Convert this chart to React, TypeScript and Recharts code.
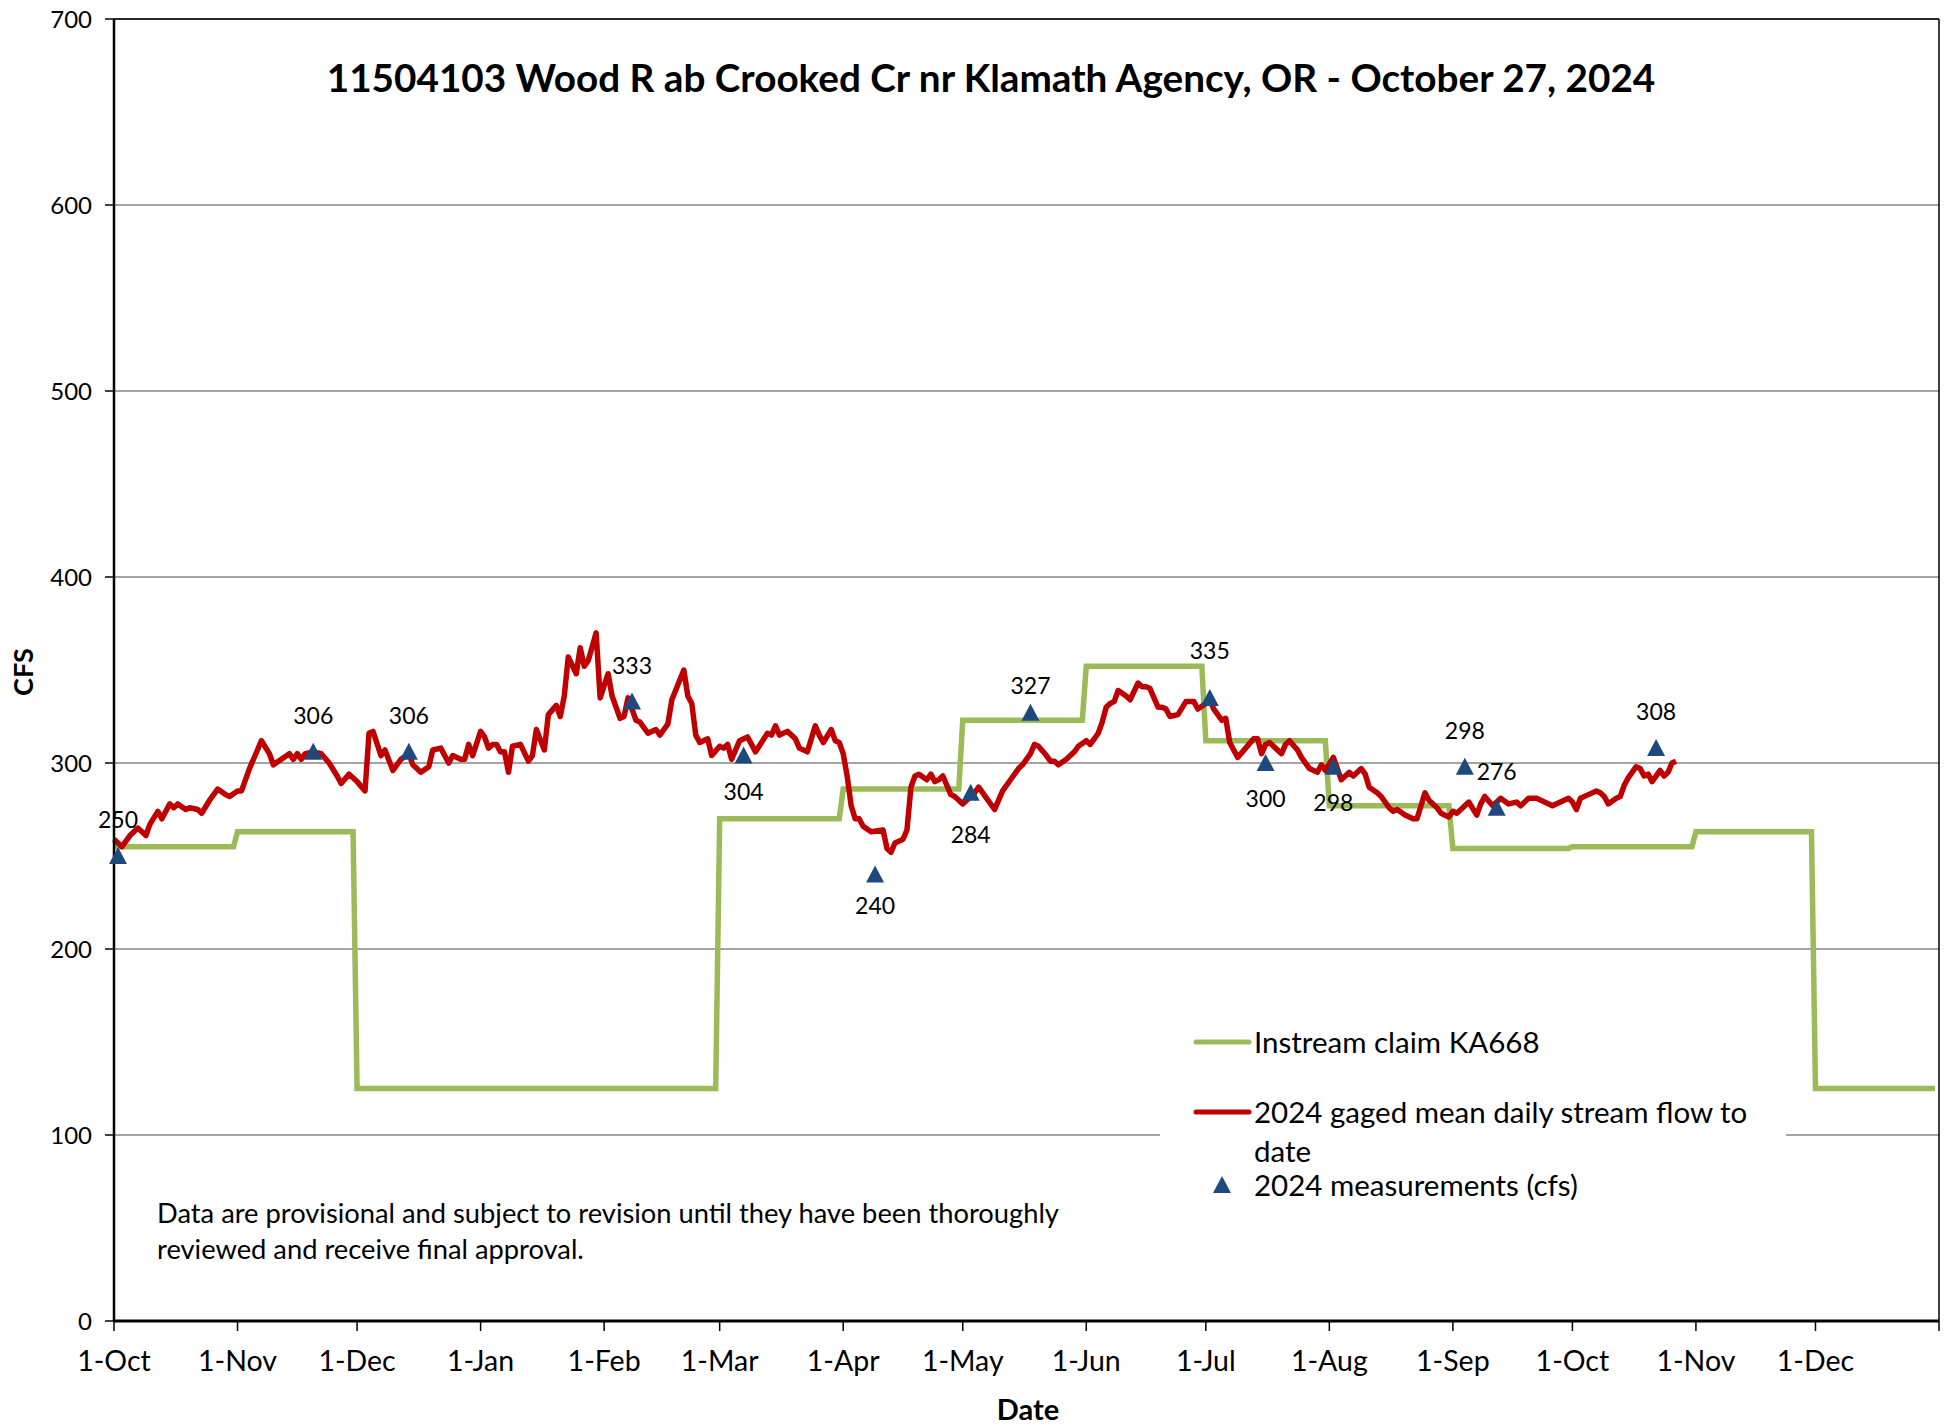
import React from 'react';
import {
  ComposedChart,
  Line,
  Scatter,
  XAxis,
  YAxis,
  CartesianGrid,
  ReferenceLine,
  Legend,
} from 'recharts';

// day 0 = 1-Oct-2023, day 458 = 1-Jan-2025
const monthTickDays = [0, 31, 61, 92, 123, 152, 183, 213, 244, 274, 305, 336, 366, 397, 427, 458];
const monthTickLabels = [
  '1-Oct', '1-Nov', '1-Dec', '1-Jan', '1-Feb', '1-Mar', '1-Apr', '1-May',
  '1-Jun', '1-Jul', '1-Aug', '1-Sep', '1-Oct', '1-Nov', '1-Dec', '',
];
const yMajorTicks = [0, 100, 200, 300, 400, 500, 600, 700];

// Instream claim KA668 (step line)
const claimDays = [0, 30, 31, 60, 61, 151, 152, 182, 183, 212, 213, 243, 244, 273, 274, 304, 305, 335, 336, 365, 366, 396, 397, 426, 427, 457];
const claimCfs = [255, 255, 263, 263, 125, 125, 270, 270, 286, 286, 323, 323, 352, 352, 312, 312, 277, 277, 254, 254, 255, 255, 263, 263, 125, 125];

// 2024 gaged mean daily stream flow
const flowDays = [
  0, 2, 4, 6, 8, 9, 11, 12, 14, 15, 16, 18, 19, 21, 22, 24, 26, 28, 29, 31, 32, 34, 36, 37, 39, 40,
  42, 44, 45, 46, 47, 48, 50, 52, 54, 56, 57, 59, 61, 63, 64, 65, 67, 68, 70, 72, 74, 75, 77, 79, 80,
  82, 84, 85, 87, 88, 89, 90, 92, 93, 94, 95, 96, 97, 98, 99, 100, 102,
  104, 105, 106, 108, 109, 111, 112, 113, 114, 116, 117, 118, 119, 121, 122, 124, 125, 127, 128, 129,
  131, 132, 134, 136, 137, 139, 140, 143, 144, 145, 146, 147, 149, 150, 152, 153, 154, 155, 157, 159,
  161, 164, 165, 166, 167, 169, 171, 172, 174, 176, 177, 178, 180, 181, 182, 183, 184, 185, 186, 187,
  188, 190, 193, 194, 195, 196, 198, 199, 200, 201, 202,
  204, 205, 206, 207, 208, 210, 211, 213, 214, 216, 217, 219, 221, 222, 223, 225, 227, 228, 230, 231,
  232, 234, 235, 236, 237, 239, 241, 242, 244, 245, 247, 248, 249, 250, 251, 252, 254, 255, 257, 258,
  259, 260, 262, 263, 264, 265, 267, 269, 271, 272, 274, 275, 276, 278, 279, 280, 282, 284, 286, 287,
  288, 289, 290, 293, 294, 295, 297, 298, 300, 302,
  303, 304, 306, 308, 310, 311, 313, 314, 315, 317, 318, 320, 321, 322, 324, 326, 327, 329, 330, 332,
  333, 335, 336, 337, 339, 340, 342, 343, 344, 346, 348, 350, 352, 353, 355, 357, 359, 361, 363, 365,
  366, 367, 368, 370, 372, 373, 374, 375, 377, 378, 379, 380, 382, 383, 384, 385, 386, 388, 389, 390,
  391, 392,
];
const flowCfs = [
  259, 255, 261, 265, 261, 267, 274, 270, 278, 276, 278, 275, 276, 275, 273, 280, 286, 283, 282, 285, 285, 297, 307, 312, 305, 299,
  302, 305, 302, 305, 302, 305, 306, 305, 300, 293, 289, 294, 290, 285, 316, 317, 304, 307, 296, 302, 305, 299, 295, 298, 307,
  308, 300, 304, 302, 302, 310, 304, 317, 314, 308, 310, 310, 306, 306, 295, 309, 310,
  301, 304, 318, 307, 326, 331, 325, 336, 357, 348, 362, 352, 355, 370, 335, 348, 336, 324, 325, 335,
  323, 322, 316, 318, 315, 321, 334, 350, 336, 332, 315, 311, 313, 304, 309, 308, 310, 302, 312, 314,
  306, 316, 315, 320, 315, 317, 313, 308, 306, 320, 315, 311, 318, 312, 311, 305, 293, 277, 270, 270,
  266, 263, 264, 254, 252, 257, 259, 264, 287, 293, 294,
  291, 294, 290, 291, 293, 283, 282, 278, 280, 284, 287, 281, 275, 280, 285, 291, 297, 299, 305, 310,
  309, 304, 301, 301, 299, 302, 306, 309, 312, 310, 316, 322, 330, 332, 333, 339, 336, 334, 343, 341,
  341, 340, 330, 330, 329, 325, 326, 333, 333, 329, 332, 334, 329, 323, 324, 311, 303, 308, 313, 313,
  305, 310, 311, 305, 310, 312, 307, 303, 297, 295,
  299, 296, 303, 291, 295, 293, 297, 294, 287, 284, 282, 276, 274, 275, 272, 270, 270, 284, 280, 276,
  273, 271, 274, 273, 277, 279, 272, 278, 282, 277, 281, 278, 279, 277, 281, 281, 279, 277, 279, 281,
  279, 275, 281, 283, 285, 284, 282, 278, 281, 282, 288, 292, 298, 297, 293, 294, 290, 296, 293, 295,
  300, 301,
];

// 2024 measurements (cfs)
const measDays = [1, 50, 74, 130, 158, 191, 215, 230, 275, 289, 306, 339, 347, 387];
const measCfs = [250, 306, 306, 333, 304, 240, 284, 327, 335, 300, 298, 298, 276, 308];
// measurements whose value label sits under the marker
const labelBelowDays = [158, 191, 215, 289, 306];

const claimData = claimDays.map((day, i) => ({ day, cfs: claimCfs[i] }));
const flowData = flowDays.map((day, i) => ({ day, cfs: flowCfs[i] }));
const measData = measDays.map((day, i) => ({ day, cfs: measCfs[i] }));

const yMinorTicks: number[] = [];
for (let v = 0; v <= 700; v += 20) if (v % 100 !== 0) yMinorTicks.push(v);

const W = 1949;
const H = 1426;
const FONT = 'Lato, "Open Sans", sans-serif';
const GREEN = '#9BBB59';
const RED = '#C00000';
const BLUE = '#1F497D';

// a couple of labels were dragged by hand in the original
const labelNudge: Record<number, number> = { 230: 9, 275: -11, 191: -5, 215: 6 };

const MeasurementMarker = (props: any) => {
  const { cx, cy, payload } = props;
  if (cx == null || cy == null) return null;
  const below = labelBelowDays.includes(payload.day);
  const ty = (below ? cy + 35 : cy - 37) + (labelNudge[payload.day] || 0);
  return (
    <g>
      <polygon points={`${cx},${cy - 9} ${cx + 9},${cy + 8} ${cx - 9},${cy + 8}`} fill={BLUE} />
      <text
        x={cx}
        y={ty}
        textAnchor="middle"
        dominantBaseline="central"
        fontFamily={FONT}
        fontSize={23}
        fill="#000"
      >
        {payload.cfs}
      </text>
    </g>
  );
};

const renderLegend = () => (
  <div style={{ position: 'relative', width: 626, height: 215, background: '#fff', fontFamily: FONT, fontSize: 29.5, color: '#000' }}>
    <svg width={626} height={215} style={{ position: 'absolute', left: 0, top: 0 }}>
      <line x1={36} x2={89} y1={42} y2={42} stroke={GREEN} strokeWidth={5} strokeLinecap="round" />
      <line x1={36} x2={89} y1={112} y2={112} stroke={RED} strokeWidth={5} strokeLinecap="round" />
      <polygon points="62,176 71,193 53,193" fill={BLUE} />
    </svg>
    <div style={{ position: 'absolute', left: 94, top: 22, lineHeight: '40px', whiteSpace: 'nowrap' }}>Instream claim KA668</div>
    <div style={{ position: 'absolute', left: 94, top: 92, lineHeight: '40px', whiteSpace: 'nowrap' }}>2024 gaged mean daily stream flow to</div>
    <div style={{ position: 'absolute', left: 94, top: 131, lineHeight: '40px', whiteSpace: 'nowrap' }}>date</div>
    <div style={{ position: 'absolute', left: 94, top: 165, lineHeight: '40px', whiteSpace: 'nowrap' }}>2024 measurements (cfs)</div>
  </div>
);

export default function App() {
  return (
    <div style={{ position: 'absolute', left: 0, top: 0, width: W, height: H, background: '#fff', fontFamily: FONT }}>
      <ComposedChart width={W} height={H} margin={{ top: 19, right: 10, bottom: 0, left: 0 }}>
        <CartesianGrid vertical={false} stroke="#868686" strokeWidth={1.5} />
        <XAxis
          type="number"
          dataKey="day"
          domain={[0, 458]}
          ticks={monthTickDays}
          interval={0}
          tickFormatter={(v: number) => monthTickLabels[monthTickDays.indexOf(v)] ?? ''}
          height={105}
          tickSize={10}
          tickMargin={20}
          axisLine={{ stroke: '#000', strokeWidth: 3 }}
          tickLine={{ stroke: '#000', strokeWidth: 1.5 }}
          tick={{ fill: '#000', fontSize: 28.5, fontFamily: FONT }}
        />
        <YAxis
          type="number"
          dataKey="cfs"
          domain={[0, 700]}
          ticks={yMajorTicks}
          interval={0}
          width={114}
          tickSize={9}
          tickMargin={13}
          axisLine={{ stroke: '#000', strokeWidth: 2.5 }}
          tickLine={{ stroke: '#000', strokeWidth: 1.5 }}
          tick={{ fill: '#000', fontSize: 24, fontFamily: FONT }}
        />
        <YAxis
          yAxisId="minor"
          type="number"
          domain={[0, 700]}
          ticks={yMinorTicks}
          interval={0}
          mirror
          width={0}
          tick={false}
          tickSize={6}
          axisLine={false}
          tickLine={{ stroke: '#000', strokeWidth: 1.5 }}
        />
        <ReferenceLine y={700} stroke="#000" strokeWidth={1.5} />
        <ReferenceLine x={458} stroke="#000" strokeWidth={1.5} />
        <Legend
          layout="vertical"
          align="center"
          verticalAlign="middle"
          content={renderLegend}
          wrapperStyle={{ left: 1160, top: 1000, width: 626, height: 215 }}
        />
        <Line
          data={claimData}
          dataKey="cfs"
          name="Instream claim KA668"
          type="linear"
          stroke={GREEN}
          strokeWidth={5.5}
          dot={false}
          activeDot={false}
          isAnimationActive={false}
        />
        <Line
          data={flowData}
          dataKey="cfs"
          name="2024 gaged mean daily stream flow to date"
          type="linear"
          stroke={RED}
          strokeWidth={5.5}
          strokeLinejoin="round"
          dot={false}
          activeDot={false}
          isAnimationActive={false}
        />
        <Scatter
          data={measData}
          dataKey="cfs"
          name="2024 measurements (cfs)"
          shape={MeasurementMarker}
          isAnimationActive={false}
        />
      </ComposedChart>

      <div
        style={{
          position: 'absolute', left: 291, top: 57, width: 1400, textAlign: 'center',
          fontSize: 38.7, fontWeight: 700, lineHeight: '40px', whiteSpace: 'nowrap',
        }}
      >
        11504103 Wood R ab Crooked Cr nr Klamath Agency, OR - October 27, 2024
      </div>
      <div
        style={{
          position: 'absolute', left: 22, top: 672, transform: 'translate(-50%, -50%) rotate(-90deg)',
          fontSize: 27, fontWeight: 700, whiteSpace: 'nowrap',
        }}
      >
        CFS
      </div>
      <div
        style={{
          position: 'absolute', left: 1028, top: 1408, transform: 'translate(-50%, -50%)',
          fontSize: 29, fontWeight: 700, whiteSpace: 'nowrap',
        }}
      >
        Date
      </div>
      <div style={{ position: 'absolute', left: 157, top: 1195, fontSize: 27.3, lineHeight: '36px', whiteSpace: 'nowrap' }}>
        Data are provisional and subject to revision until they have been thoroughly
        <br />
        reviewed and receive final approval.
      </div>
    </div>
  );
}
